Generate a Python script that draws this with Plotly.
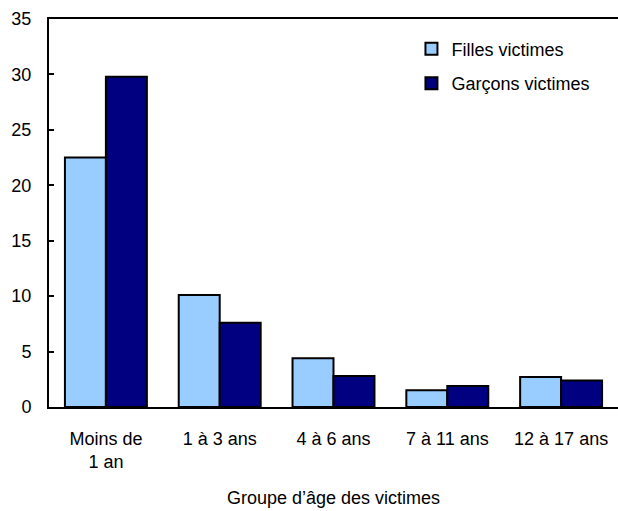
import plotly.graph_objects as go

# Age groups of victims and rates by sex
age_groups = ["Moins de<br>1 an", "1 à 3 ans", "4 à 6 ans", "7 à 11 ans", "12 à 17 ans"]
girls = [22.5, 10.1, 4.4, 1.5, 2.7]
boys = [29.8, 7.6, 2.8, 1.9, 2.4]

font_family = "Liberation Sans, Arial, Helvetica, sans-serif"

fig = go.Figure()
fig.add_trace(go.Bar(
    x=age_groups, y=girls, name="Filles victimes", legendgroup="f",
    marker=dict(color="#99CCFF", line=dict(color="black", width=2)),
))
fig.add_trace(go.Bar(
    x=age_groups, y=boys, name="Garçons victimes", legendgroup="g",
    marker=dict(color="#000080", line=dict(color="black", width=2)),
))

fig.update_layout(
    width=618, height=511,
    margin=dict(l=49, r=0, t=19, b=104),
    paper_bgcolor="white", plot_bgcolor="white",
    font=dict(family=font_family, size=18, color="black"),
    barmode="group", bargap=0.28, bargroupgap=0,
    showlegend=True,
    legend=dict(
        x=0.637, y=0.97, xanchor="left", yanchor="top",
        traceorder="grouped", tracegroupgap=8,
        bgcolor="rgba(0,0,0,0)", font=dict(size=18),
    ),
    xaxis=dict(
        showline=True, linecolor="black", linewidth=2, mirror=True,
        ticks="", showgrid=False, ticklabelstandoff=14,
        title=dict(text="Groupe d’âge des victimes", standoff=20, font=dict(size=18)),
        tickfont=dict(size=18),
    ),
    yaxis=dict(
        range=[0, 35], dtick=5, showline=True, linecolor="black", linewidth=2,
        ticks="inside", ticklen=5, tickwidth=2, tickcolor="black",
        showgrid=False, zeroline=False, ticklabelstandoff=12,
        tickfont=dict(size=18),
    ),
)

fig.write_html("out.html")
